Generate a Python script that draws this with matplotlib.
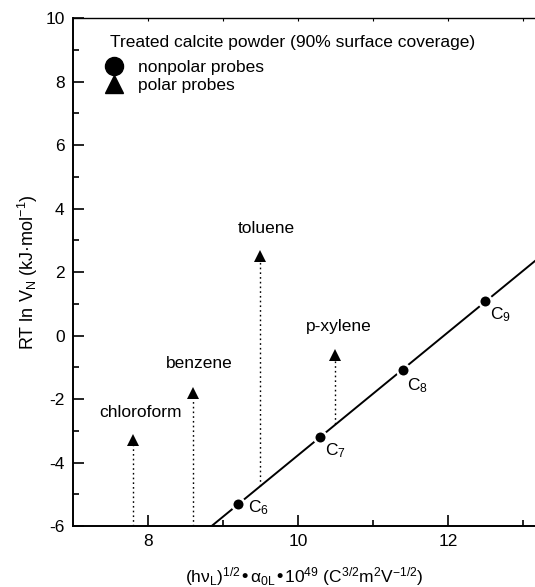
import numpy as np
import matplotlib
matplotlib.use('Agg')
from matplotlib import pyplot as plt
from matplotlib.lines import Line2D

plt.rcParams['font.family'] = ['Liberation Sans', 'DejaVu Sans']
plt.rcParams['mathtext.default'] = 'regular'
plt.rcParams['axes.unicode_minus'] = False

# nonpolar probes (n-alkanes)
alk_names = ['C$_6$', 'C$_7$', 'C$_8$', 'C$_9$']
alk_x = [9.2, 10.3, 11.4, 12.5]
alk_y = [-5.3, -3.2, -1.1, 1.1]

# polar probes
pol_names = ['chloroform', 'benzene', 'toluene', 'p-xylene']
pol_x = [7.8, 8.6, 9.5, 10.5]
pol_y = [-3.3, -1.8, 2.5, -0.6]

fig = plt.figure(figsize=(5.35, 5.87), dpi=100)
ax = fig.add_axes([0.1364, 0.1039, 0.8636, 0.8654])
ax.set_xlim(7, 13.16)
ax.set_ylim(-6, 10)

# reference line of the alkanes
k, b = np.polyfit(alk_x, alk_y, 1)
xx = np.array([7, 13.16])
ax.plot(xx, k*xx + b, color='black', lw=1.4, zorder=2)

# dotted drop lines from reference line to polar probes
for x, y in zip(pol_x, pol_y):
    ax.plot([x, x], [max(k*x + b, -6), y], color='black', ls=(0, (1.2, 2.2)), lw=1.0, zorder=1)

ax.plot(alk_x, alk_y, 'o', color='black', ms=9, mec='white', mew=1.8, zorder=3)
ax.plot(pol_x, pol_y, '^', color='black', ms=9, mec='black', mew=0, zorder=3)

alk_off = [(7, -3), (3, -10), (3, -11), (3, -10)]
for name, x, y, off in zip(alk_names, alk_x, alk_y, alk_off):
    ax.annotate(name, (x, y), xytext=off, textcoords='offset points',
                fontsize=12.5, ha='left', va='center')

lab_off = {'chloroform': (0.1, 0.87), 'benzene': (0.08, 0.93),
           'toluene': (0.08, 0.88), 'p-xylene': (0.05, 0.87)}
for name, x, y in zip(pol_names, pol_x, pol_y):
    dx, dy = lab_off[name]
    ax.text(x + dx, y + dy, name, fontsize=12.5, ha='center', va='center')

ax.text(0.08, 0.951, 'Treated calcite powder (90% surface coverage)', transform=ax.transAxes,
        fontsize=12.5, ha='left', va='center')
handles = [Line2D([], [], marker='o', ls='none', color='black', ms=13),
           Line2D([], [], marker='^', ls='none', color='black', ms=13)]
leg = ax.legend(handles, ['nonpolar probes', 'polar probes'],
                loc='upper left', bbox_to_anchor=(0.05, 0.934), frameon=False,
                fontsize=12.5, handletextpad=0.8, labelspacing=0.15,
                borderpad=0, handlelength=1.1)

ax.set_xticks([8, 10, 12])
ax.set_xticks([9, 11, 13], minor=True)
ax.set_yticks(np.arange(-6, 11, 2))
ax.set_yticks(np.arange(-5, 10, 2), minor=True)
ax.tick_params(which='both', direction='in', right=False, labelsize=12.5, width=1.2)
ax.tick_params(which='major', length=8, pad=6)
ax.tick_params(which='minor', length=4)
# tiny tick marks along the top frame
sec = ax.secondary_xaxis('top')
sec.set_xticks([8, 9, 10, 11, 12, 13])
sec.tick_params(direction='in', length=2, width=0.8, labeltop=False)
sec.spines['top'].set_linewidth(1.0)
ax.spines['top'].set_visible(False)
for s in ['left', 'bottom']:
    ax.spines[s].set_linewidth(1.4)
ax.spines['right'].set_visible(False)

ax.set_xlabel('(hν$_L$)$^{1/2}$•α$_{0L}$•10$^{49}$ (C$^{3/2}$m$^2$V$^{-1/2}$)', fontsize=12.5, labelpad=11)
ax.set_ylabel('RT ln V$_N$ (kJ·mol$^{-1}$)', fontsize=13, labelpad=4)

fig.savefig('out.png', dpi=100)
